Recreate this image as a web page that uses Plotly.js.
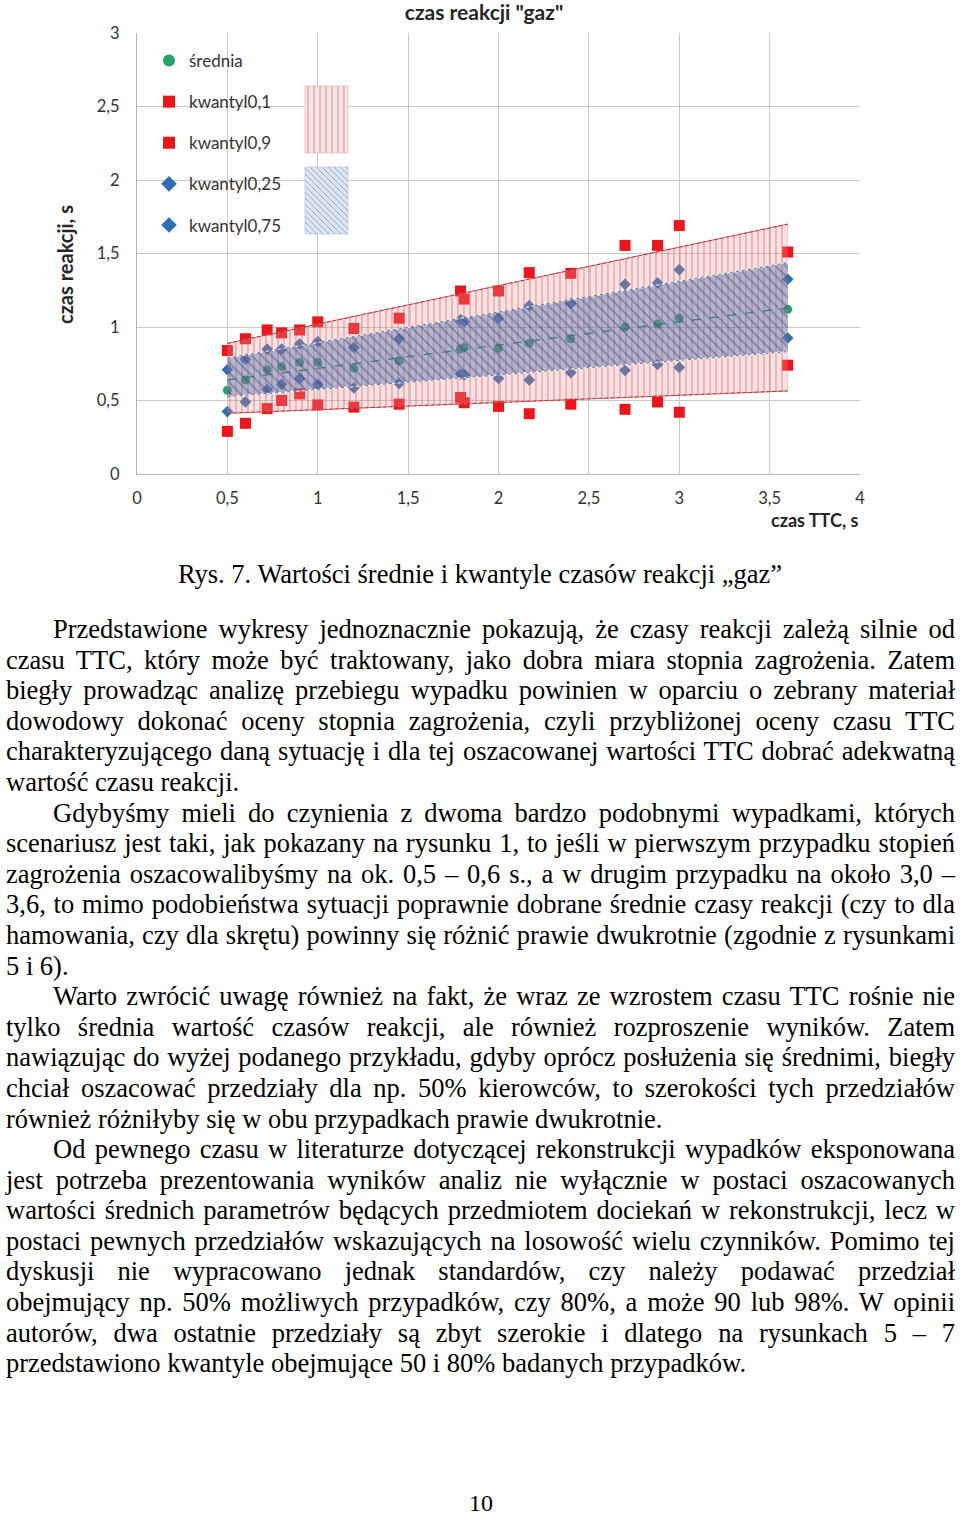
<!DOCTYPE html>
<html><head><meta charset="utf-8">
<script src="https://cdn.plot.ly/plotly-3.0.1.min.js"></script>
<style>
html,body{margin:0;padding:0;background:#fff;width:960px;height:1517px;overflow:hidden;}
#chart{position:absolute;left:0;top:0;width:960px;height:540px;}
.txt{position:absolute;font-family:"Liberation Serif","Times New Roman",serif;font-size:26.5px;line-height:30.6px;color:#000;}
#caption{left:0;width:960px;top:559px;text-align:center;}
#body{left:6px;width:949px;top:614px;}
.ln{text-align:justify;text-align-last:justify;}
.last{text-align:left;text-align-last:left;}
.ind{text-indent:47px;}
#pnum{left:0;width:962px;top:1489px;font-size:24px;line-height:28px;text-align:center;}
</style></head>
<body>
<div id="chart"></div>
<div id="caption" class="txt">Rys. 7. Wartości średnie i kwantyle czasów reakcji „gaz”</div>
<div id="body" class="txt"></div>
<div id="pnum" class="txt">10</div>
<script>
// ---- data ----
const ttc      = [0.5, 0.6, 0.72, 0.8, 0.9, 1.0, 1.2, 1.45, 1.79, 1.81, 2.0, 2.17, 2.4, 2.7, 2.88, 3.0, 3.6];
const srednia  = [0.57, 0.64, 0.71, 0.73, 0.76, 0.76, 0.72, 0.77, 0.85, 0.86, 0.855, 0.89, 0.92, 1.0, 1.02, 1.06, 1.12];
const kw01     = [0.29, 0.345, 0.445, 0.50, 0.545, 0.47, 0.455, 0.475, 0.52, 0.485, 0.46, 0.41, 0.475, 0.44, 0.49, 0.42, 0.74];
const kw09     = [0.84, 0.92, 0.98, 0.96, 0.98, 1.035, 0.99, 1.06, 1.245, 1.19, 1.245, 1.37, 1.365, 1.555, 1.555, 1.69, 1.51];
const kw025    = [0.425, 0.49, 0.575, 0.61, 0.65, 0.61, 0.585, 0.615, 0.68, 0.675, 0.65, 0.64, 0.69, 0.705, 0.745, 0.725, 0.925];
const kw075    = [0.71, 0.78, 0.85, 0.85, 0.885, 0.90, 0.86, 0.92, 1.05, 1.035, 1.06, 1.145, 1.16, 1.29, 1.30, 1.39, 1.325];
// linear trend lines (bands)
const trendX     = [0.5, 3.6];
const trend01    = [0.413, 0.565];
const trend09    = [0.889, 1.70];
const trend025   = [0.526, 0.832];
const trend075   = [0.789, 1.437];
const trendMean  = [0.64, 1.13];
const seriesNames = ['średnia', 'kwantyl0,1', 'kwantyl0,9', 'kwantyl0,25', 'kwantyl0,75'];
const xTickVals = [0, 0.5, 1, 1.5, 2, 2.5, 3, 3.5, 4];
const yTickVals = [0, 0.5, 1, 1.5, 2, 2.5, 3];
const chartTitle = 'czas reakcji "gaz"';
const xTitle = 'czas TTC, s';
const yTitle = 'czas reakcji, s';

const bodyLines = [
 ['Przedstawione wykresy jednoznacznie pokazują, że czasy reakcji zależą silnie od','ind'],
 ['czasu TTC, który może być traktowany, jako dobra miara stopnia zagrożenia. Zatem',''],
 ['biegły prowadząc analizę przebiegu wypadku powinien w oparciu o zebrany materiał',''],
 ['dowodowy dokonać oceny stopnia zagrożenia, czyli przybliżonej oceny czasu TTC',''],
 ['charakteryzującego daną sytuację i dla tej oszacowanej wartości TTC dobrać adekwatną',''],
 ['wartość czasu reakcji.','last'],
 ['Gdybyśmy mieli do czynienia z dwoma bardzo podobnymi wypadkami, których','ind'],
 ['scenariusz jest taki, jak pokazany na rysunku 1, to jeśli w pierwszym przypadku stopień',''],
 ['zagrożenia oszacowalibyśmy na ok. 0,5 – 0,6 s., a w drugim przypadku na około 3,0 –',''],
 ['3,6, to mimo podobieństwa sytuacji poprawnie dobrane średnie czasy reakcji (czy to dla',''],
 ['hamowania, czy dla skrętu) powinny się różnić prawie dwukrotnie (zgodnie z rysunkami',''],
 ['5 i 6).','last'],
 ['Warto zwrócić uwagę również na fakt, że wraz ze wzrostem czasu TTC rośnie nie','ind'],
 ['tylko średnia wartość czasów reakcji, ale również rozproszenie wyników. Zatem',''],
 ['nawiązując do wyżej podanego przykładu, gdyby oprócz posłużenia się średnimi, biegły',''],
 ['chciał oszacować przedziały dla np. 50% kierowców, to szerokości tych przedziałów',''],
 ['również różniłyby się w obu przypadkach prawie dwukrotnie.','last'],
 ['Od pewnego czasu w literaturze dotyczącej rekonstrukcji wypadków eksponowana','ind'],
 ['jest potrzeba prezentowania wyników analiz nie wyłącznie w postaci oszacowanych',''],
 ['wartości średnich parametrów będących przedmiotem dociekań w rekonstrukcji, lecz w',''],
 ['postaci pewnych przedziałów wskazujących na losowość wielu czynników. Pomimo tej',''],
 ['dyskusji nie wypracowano jednak standardów, czy należy podawać przedział',''],
 ['obejmujący np. 50% możliwych przypadków, czy 80%, a może 90 lub 98%. W opinii',''],
 ['autorów, dwa ostatnie przedziały są zbyt szerokie i dlatego na rysunkach 5 – 7',''],
 ['przedstawiono kwantyle obejmujące 50 i 80% badanych przypadków.','last']
];

// ---- text ----
const bodyEl = document.getElementById('body');
bodyLines.forEach(function(l){
  const d = document.createElement('div');
  d.className = 'ln ' + l[1];
  d.textContent = l[0];
  bodyEl.appendChild(d);
});
Array.from(bodyEl.children).forEach(function(d){
  let fs = 26.5;
  while (d.getBoundingClientRect().height > 32 && fs > 20) { fs -= 0.1; d.style.fontSize = fs + 'px'; }
});

// ---- chart ----
const W = 960, H = 540, L = 137, R = 860, T = 33, B = 474;
const px2x = p => (p - L) / (R - L);
const px2y = p => (B - p) / (B - T);
const font = 'Lato, "Open Sans", sans-serif';

const red = 'rgb(238,20,25)', blue = 'rgb(45,110,180)', green = 'rgb(35,165,105)';
const traces = [
  {x: ttc, y: srednia, name: seriesNames[0], mode: 'markers', type: 'scatter', legendgroup: 'a',
   marker: {symbol: 'circle', size: 9, color: green}},
  {x: ttc, y: kw01, name: seriesNames[1], mode: 'markers', type: 'scatter', legendgroup: 'b',
   marker: {symbol: 'square', size: 11, color: red}},
  {x: ttc, y: kw09, name: seriesNames[2], mode: 'markers', type: 'scatter', legendgroup: 'c',
   marker: {symbol: 'square', size: 11, color: red}},
  {x: ttc, y: kw025, name: seriesNames[3], mode: 'markers', type: 'scatter', legendgroup: 'd',
   marker: {symbol: 'diamond', size: 9, color: blue}},
  {x: ttc, y: kw075, name: seriesNames[4], mode: 'markers', type: 'scatter', legendgroup: 'e',
   marker: {symbol: 'diamond', size: 9, color: blue}},
  // red band 0,1-0,9
  {x: trendX, y: trend01, mode: 'lines', showlegend: false, hoverinfo: 'skip',
   line: {color: 'rgb(225,85,90)', width: 1}},
  {x: trendX, y: trend09, mode: 'lines', showlegend: false, hoverinfo: 'skip', fill: 'tonexty',
   fillcolor: 'rgba(235,150,150,0.28)',
   fillpattern: {shape: '|', size: 6, solidity: 0.18, fgcolor: 'rgba(200,75,85,0.55)', bgcolor: 'rgba(235,150,150,0.28)', fillmode: 'replace'},
   line: {color: 'rgb(225,85,90)', width: 1}},
  // blue band 0,25-0,75
  {x: trendX, y: trend025, mode: 'lines', showlegend: false, hoverinfo: 'skip',
   line: {color: 'rgba(255,255,255,0.9)', width: 1.2}},
  {x: trendX, y: trend075, mode: 'lines', showlegend: false, hoverinfo: 'skip', fill: 'tonexty',
   fillcolor: 'rgba(75,110,175,0.4)',
   fillpattern: {shape: '\\', size: 7, solidity: 0.22, fgcolor: 'rgba(45,60,105,0.45)', bgcolor: 'rgba(75,110,175,0.4)', fillmode: 'replace'},
   line: {color: 'rgba(255,255,255,0.9)', width: 1.2}},
  // dashed trend lines
  {x: trendX, y: trend09, mode: 'lines', showlegend: false, hoverinfo: 'skip', line: {color: 'rgba(140,40,45,0.7)', width: 1, dash: 'dot'}},
  {x: trendX, y: trend01, mode: 'lines', showlegend: false, hoverinfo: 'skip', line: {color: 'rgba(140,40,45,0.7)', width: 1, dash: 'dot'}},
  {x: trendX, y: trend075, mode: 'lines', showlegend: false, hoverinfo: 'skip', line: {color: 'rgba(40,55,100,0.7)', width: 1, dash: 'dot'}},
  {x: trendX, y: trend025, mode: 'lines', showlegend: false, hoverinfo: 'skip', line: {color: 'rgba(40,55,100,0.7)', width: 1, dash: 'dot'}},
  {x: trendX, y: trendMean, mode: 'lines', showlegend: false, hoverinfo: 'skip', line: {color: 'rgba(50,120,100,0.85)', width: 1.3, dash: 'dash'}}
];

// legend decoration (white box + pattern patches)
function linesPath(x0, x1, y0, y1, step, diag) {
  let p = '';
  if (!diag) {
    for (let x = x0 + step / 2; x < x1; x += step) p += 'M' + px2x(x) + ',' + px2y(y0) + 'L' + px2x(x) + ',' + px2y(y1);
  } else {
    const h = y1 - y0;
    for (let s = x0 - h; s < x1; s += step) {
      let xa = s, ya = y0, xb = s + h, yb = y1;
      if (xa < x0) { ya = y0 + (x0 - xa); xa = x0; }
      if (xb > x1) { yb = y1 - (xb - x1); xb = x1; }
      if (xb > xa) p += 'M' + px2x(xa) + ',' + px2y(ya) + 'L' + px2x(xb) + ',' + px2y(yb);
    }
  }
  return p;
}
const shapes = [
  {type: 'rect', xref: 'paper', yref: 'paper', layer: 'between', x0: px2x(158), x1: px2x(362), y0: px2y(258), y1: px2y(64),
   fillcolor: '#fff', line: {width: 0}},
  {type: 'rect', xref: 'paper', yref: 'paper', x0: px2x(305), x1: px2x(348), y0: px2y(153), y1: px2y(86),
   fillcolor: 'rgb(248,228,228)', line: {width: 1, color: 'rgb(235,200,200)'}},
  {type: 'path', xref: 'paper', yref: 'paper', path: linesPath(305, 348, 86, 153, 6, false),
   line: {width: 1, color: 'rgb(210,150,155)'}},
  {type: 'rect', xref: 'paper', yref: 'paper', x0: px2x(305), x1: px2x(348), y0: px2y(234), y1: px2y(167),
   fillcolor: 'rgb(222,230,242)', line: {width: 1, color: 'rgb(200,212,230)'}},
  {type: 'path', xref: 'paper', yref: 'paper', path: linesPath(305, 348, 167, 234, 6, true),
   line: {width: 1, color: 'rgb(150,170,205)'}}
];

const layout = {
  width: W, height: H, autosize: false,
  margin: {l: L, r: W - R, t: T, b: H - B, pad: 0},
  paper_bgcolor: '#fff', plot_bgcolor: '#fff',
  separators: ', ',
  font: {family: font, size: 16.5, color: '#333'},
  title: {text: chartTitle, x: 484 / W, xanchor: 'center', xref: 'container', y: 1 - 13 / H, yanchor: 'middle', yref: 'container',
          font: {family: font, size: 21, color: '#262626', weight: 'bold'}},
  xaxis: {range: [0, 4], tickvals: xTickVals, showgrid: true, gridcolor: 'rgb(200,200,200)', gridwidth: 1,
          showline: true, linecolor: 'rgb(180,180,180)', zeroline: false, ticks: '', ticklabelstandoff: 9,
          tickfont: {family: font, size: 16.5, color: '#333'}, fixedrange: true},
  yaxis: {range: [0, 3], tickvals: yTickVals, showgrid: true, gridcolor: 'rgb(200,200,200)', gridwidth: 1,
          showline: true, linecolor: 'rgb(180,180,180)', zeroline: false, ticks: '', ticklabelstandoff: 13,
          tickfont: {family: font, size: 16.5, color: '#333'}, fixedrange: true},
  showlegend: true,
  legend: {x: px2x(149), xanchor: 'left', y: px2y(43), yanchor: 'top', bgcolor: 'rgba(0,0,0,0)', borderwidth: 0,
           traceorder: 'grouped', tracegroupgap: 16, itemsizing: 'constant',
           font: {family: font, size: 17, color: '#333'}},
  annotations: [
    {text: yTitle, xref: 'paper', yref: 'paper', x: px2x(65), y: px2y(265), xanchor: 'center', yanchor: 'middle',
     textangle: -90, showarrow: false, font: {family: font, size: 20, color: '#262626', weight: 'bold'}},
    {text: xTitle, xref: 'paper', yref: 'paper', x: 1, y: px2y(520), xanchor: 'right', yanchor: 'middle',
     showarrow: false, font: {family: font, size: 18, color: '#262626', weight: 'bold'}}
  ],
  shapes: shapes
};
Plotly.newPlot('chart', traces, layout, {staticPlot: true, displayModeBar: false});
</script>
</body></html>
